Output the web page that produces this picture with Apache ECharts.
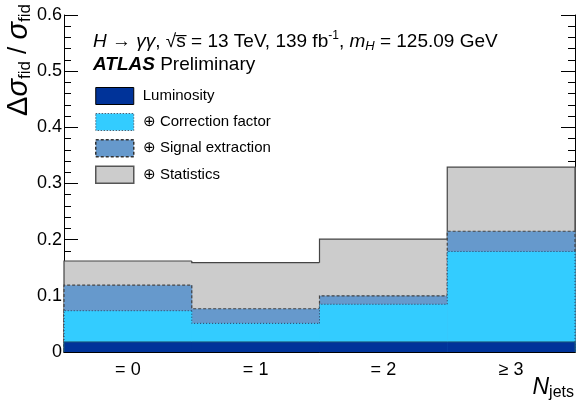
<!DOCTYPE html>
<html>
<head>
<meta charset="utf-8">
<script src="https://cdn.jsdelivr.net/npm/echarts@6/dist/echarts.min.js"></script>
<style>
  html, body { margin: 0; padding: 0; background: #fff; }
  #chartmain { width: 577px; height: 402px; }
</style>
</head>
<body>
<div id="chartmain"></div>
<script>
// bins and cumulative (quadrature-summed) uncertainties
var categories = ['= 0', '= 1', '= 2', '\u2265 3'];
var luminosity = [0.018, 0.018, 0.018, 0.018];
var correction = [0.0735, 0.051, 0.085, 0.179];
var signalExtr = [0.119, 0.077, 0.100, 0.215];
var statistics = [0.162, 0.159, 0.201, 0.329];
var yTicks = [0, 0.1, 0.2, 0.3, 0.4, 0.5, 0.6];

var FONT = 'Liberation Sans';

// histogram layer: filled bins + step outline
function layer(name, vals, fill, stroke, dash, lw) {
  return {
    name: name,
    type: 'custom',
    clip: false,
    itemStyle: { color: fill, borderColor: stroke, borderType: dash, borderWidth: lw },
    data: vals,
    renderItem: function (params, api) {
      var i = params.dataIndex;
      var v = api.value(1);
      var top = api.coord([i, v]);
      var base = api.coord([i, 0]);
      var w = api.size([1, 0])[0];
      var x0 = top[0] - w / 2, x1 = top[0] + w / 2;
      var prev = i > 0 ? vals[i - 1] : 0;
      var yp = api.coord([i, prev])[1];
      var pts = [[x0, yp], [x0, top[1]], [x1, top[1]]];
      if (i === vals.length - 1) pts.push([x1, base[1]]);
      return {
        type: 'group',
        children: [
          { type: 'rect', shape: { x: x0, y: top[1], width: w + 0.5, height: base[1] - top[1] },
            style: { fill: fill } },
          { type: 'polyline', shape: { points: pts },
            style: { fill: null, stroke: stroke, lineWidth: lw, lineDash: dash } }
        ]
      };
    }
  };
}

var myChart = echarts.init(document.getElementById('chartmain'));

var option = {
  animation: false,
  backgroundColor: '#fff',
  grid: { left: 64, right: 2, top: 15, bottom: 50 },
  xAxis: [{
    type: 'category',
    data: categories,
    position: 'bottom',
    axisLine: { lineStyle: { color: '#000', width: 1 } },
    axisTick: { inside: true, length: 10, lineStyle: { color: '#000' } },
    axisLabel: { color: '#000', fontSize: 18, fontFamily: FONT, margin: 9 },
    splitLine: { show: false }
  }, {
    type: 'category',
    data: categories,
    position: 'top',
    axisLine: { lineStyle: { color: '#000', width: 1 } },
    axisTick: { inside: true, length: 10, lineStyle: { color: '#000' } },
    axisLabel: { show: false },
    splitLine: { show: false }
  }],
  yAxis: [{
    type: 'value', min: 0, max: 0.6, interval: 0.1,
    axisLine: { show: true, lineStyle: { color: '#000', width: 1 } },
    axisTick: { show: true, inside: true, length: 14, lineStyle: { color: '#000' } },
    minorTick: { show: true, splitNumber: 5, length: 7, lineStyle: { color: '#000' } },
    axisLabel: {
      color: '#000', fontSize: 18, fontFamily: FONT, margin: 2,
      formatter: function (v) { return v === 0 ? '0' : v.toFixed(1); }
    },
    splitLine: { show: false }
  }, {
    type: 'value', min: 0, max: 0.6, interval: 0.1, position: 'right',
    axisLine: { show: true, lineStyle: { color: '#000', width: 1 } },
    axisTick: { show: true, inside: true, length: 14, lineStyle: { color: '#000' } },
    minorTick: { show: true, splitNumber: 5, length: 7, lineStyle: { color: '#000' } },
    axisLabel: { show: false },
    splitLine: { show: false }
  }],
  legend: {
    orient: 'vertical',
    left: 95, top: 87, padding: 0,
    itemWidth: 38, itemHeight: 17, itemGap: 8,
    icon: 'rect',
    selectedMode: false,
    textStyle: { fontSize: 15, fontFamily: FONT, color: '#000', padding: [0, 0, 0, 4] },
    data: [
      { name: 'Luminosity', itemStyle: { color: '#003399', borderColor: '#000', borderWidth: 1 } },
      { name: '\u2295 Correction factor', itemStyle: { color: '#33ccff', borderColor: '#334', borderWidth: 1, borderType: [1, 2] } },
      { name: '\u2295 Signal extraction', itemStyle: { color: '#6699cc', borderColor: '#333', borderWidth: 1.5, borderType: [3, 2] } },
      { name: '\u2295 Statistics', itemStyle: { color: '#cccccc', borderColor: '#555', borderWidth: 1.5 } }
    ]
  },
  series: [
    layer('\u2295 Statistics', statistics, '#cccccc', '#444', null, 1.2),
    layer('\u2295 Signal extraction', signalExtr, '#6699cc', '#444', [3, 2], 1.2),
    layer('\u2295 Correction factor', correction, '#33ccff', '#2a3a5a', [1, 2], 1),
    layer('Luminosity', luminosity, '#003399', '#1d5a78', null, 1)
  ],
  graphic: [
    {
      type: 'text', x: 19, y: 4, rotation: Math.PI / 2,
      style: {
        text: '{big|\u0394}{bigi|\u03c3}{sub|fid}{mid| / }{bigi|\u03c3}{sub|fid}',
        align: 'right', verticalAlign: 'middle', fill: '#000',
        rich: {
          big: { fontSize: 29, fontFamily: FONT, fill: '#000' },
          bigi: { fontSize: 29, fontStyle: 'italic', fontFamily: FONT, fill: '#000' },
          mid: { fontSize: 26, fontFamily: FONT, fill: '#000' },
          sub: { fontSize: 17, fontFamily: FONT, fill: '#000', padding: [12, 0, 0, 0] }
        }
      }
    },
    {
      type: 'text', left: 93, top: 30,
      style: {
        text: '{it|H} \u2192 {it|\u03b3\u03b3}, \u221as\u0305 = 13 TeV, 139 fb{sup|-1}, {it|m}{sub|H} = 125.09 GeV',
        fontSize: 19, fontFamily: FONT, fill: '#000',
        rich: {
          it: { fontSize: 19, fontStyle: 'italic', fontFamily: FONT },
          sup: { fontSize: 12, fontFamily: FONT, padding: [0, 0, 11, 0] },
          sub: { fontSize: 13, fontStyle: 'italic', fontFamily: FONT, padding: [9, 0, 0, 0] }
        }
      }
    },
    {
      type: 'text', left: 93, top: 55,
      style: {
        text: '{b|ATLAS} Preliminary',
        fontSize: 19, fontFamily: FONT, fill: '#000',
        rich: { b: { fontSize: 19, fontWeight: 'bold', fontStyle: 'italic', fontFamily: FONT } }
      }
    },
    {
      type: 'text', right: 3, top: 376,
      style: {
        text: '{it|N}{sub|jets}',
        fill: '#000',
        rich: {
          it: { fontSize: 23, fontStyle: 'italic', fontFamily: FONT },
          sub: { fontSize: 16, fontFamily: FONT, padding: [11, 0, 0, 0] }
        }
      }
    }
  ]
};

myChart.setOption(option);
</script>
</body>
</html>
